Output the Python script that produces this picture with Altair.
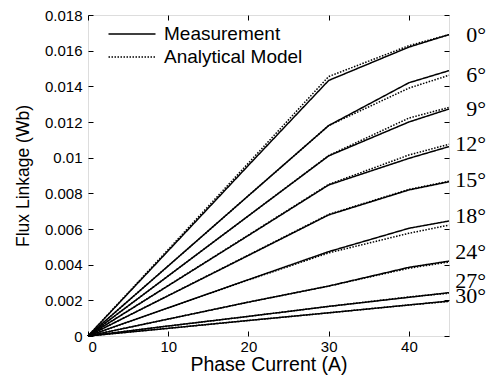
import altair as alt
import pandas as pd

current = [0, 10, 20, 30, 40, 45]
angles = ["0°", "6°", "9°", "12°", "15°", "18°", "24°", "27°", "30°"]

meas_0 = [0, 0.00478, 0.00957, 0.01433, 0.01620, 0.01690]
meas_6 = [0, 0.00393, 0.00787, 0.01180, 0.01420, 0.01488]
meas_9 = [0, 0.00337, 0.00674, 0.01010, 0.01200, 0.01273]
meas_12 = [0, 0.00282, 0.00564, 0.00847, 0.00996, 0.01062]
meas_15 = [0, 0.00226, 0.00452, 0.00679, 0.00819, 0.00865]
meas_18 = [0, 0.00158, 0.00316, 0.00473, 0.00604, 0.00645]
meas_24 = [0, 0.00095, 0.00190, 0.00280, 0.00385, 0.00420]
meas_27 = [0, 0.00056, 0.00110, 0.00166, 0.00217, 0.00243]
meas_30 = [0, 0.00043, 0.00087, 0.00130, 0.00174, 0.00196]

model_0 = [0, 0.00485, 0.00970, 0.01455, 0.01628, 0.01690]
model_6 = [0, 0.00393, 0.00787, 0.01180, 0.01390, 0.01462]
model_9 = [0, 0.00337, 0.00674, 0.01012, 0.01222, 0.01282]
model_12 = [0, 0.00283, 0.00566, 0.00850, 0.01015, 0.01075]
model_15 = [0, 0.00227, 0.00454, 0.00682, 0.00822, 0.00868]
model_18 = [0, 0.00158, 0.00314, 0.00466, 0.00576, 0.00622]
model_24 = [0, 0.00095, 0.00190, 0.00280, 0.00380, 0.00415]
model_27 = [0, 0.00056, 0.00110, 0.00166, 0.00219, 0.00240]
model_30 = [0, 0.00043, 0.00087, 0.00130, 0.00174, 0.00194]

label_y = [0.01693, 0.01469, 0.01281, 0.01085, 0.00880, 0.00680, 0.00477, 0.00316, 0.00230]

x_ticks = [0, 10, 20, 30, 40]
y_ticks = [0, 0.002, 0.004, 0.006, 0.008, 0.010, 0.012, 0.014, 0.016, 0.018]

meas = [meas_0, meas_6, meas_9, meas_12, meas_15, meas_18, meas_24, meas_27, meas_30]
model = [model_0, model_6, model_9, model_12, model_15, model_18, model_24, model_27, model_30]

rows = []
for a, m, p in zip(angles, meas, model):
    for c, v in zip(current, m):
        rows.append({"current": c, "flux": v, "angle": a, "type": "Measurement"})
    for c, v in zip(current, p):
        rows.append({"current": c, "flux": v, "angle": a, "type": "Analytical Model"})
df = pd.DataFrame(rows)

lab_df = pd.DataFrame({"angle": angles, "y": label_y, "x": [45] * len(angles)})

xscale = alt.Scale(domain=[0, 45], nice=False)
yscale = alt.Scale(domain=[0, 0.018], nice=False)

FONT = "Liberation Sans"

x_bottom = alt.X("current:Q", scale=xscale, axis=alt.Axis(
    orient="bottom", values=x_ticks, title="Phase Current (A)",
    offset=-5, tickSize=5, domain=False, grid=False, tickColor="black",
    labelFont=FONT, labelFontSize=15, labelColor="black", labelPadding=3,
    titleFont=FONT, titleFontSize=19.5, titleFontWeight="normal", titleColor="black",
    titlePadding=1))
y_left = alt.Y("flux:Q", scale=yscale, axis=alt.Axis(
    orient="left", values=y_ticks, format=".3~f",
    title="Flux Linkage (Wb)", offset=-5, tickSize=5, domain=False, grid=False,
    tickColor="black", labelFont=FONT, labelFontSize=15, labelColor="black",
    labelPadding=6, labelOverlap=False, titleFont=FONT, titleFontSize=17.5,
    titleFontWeight="normal", titleColor="black", titlePadding=12))

lines = alt.Chart(df).mark_line(color="black", strokeWidth=1.5).encode(
    x=x_bottom,
    y=y_left,
    detail="angle:N",
    strokeDash=alt.StrokeDash("type:N", scale=alt.Scale(
        domain=["Measurement", "Analytical Model"], range=[[1, 0], [1.5, 1.5]]),
        legend=alt.Legend(title=None, orient="none", legendX=33, legendY=8,
                          symbolType="M-2.35,0H2.35", symbolSize=400,
                          symbolStrokeWidth=1.5, symbolStrokeColor="black",
                          symbolFillColor="transparent",
                          labelFont=FONT, labelFontSize=19, labelColor="black",
                          labelOffset=21, rowPadding=2)),
)

frame_ticks = alt.Chart(df).mark_line(opacity=0).encode(
    x=alt.X("current:Q", scale=xscale, axis=alt.Axis(
        orient="top", values=x_ticks, labels=False, title=None,
        offset=-5, tickSize=5, domain=False, grid=False, tickColor="black")),
    y=alt.Y("flux:Q", scale=yscale, axis=alt.Axis(
        orient="right", values=y_ticks, labels=False,
        title=None, offset=-5, tickSize=5, domain=False, grid=False, tickColor="black")),
    detail="angle:N",
)

labels = alt.Chart(lab_df).mark_text(
    align="right", baseline="middle", dx=37, dy=1, font="Liberation Serif",
    fontSize=22, color="black").encode(
    x=alt.X("x:Q", scale=xscale, axis=None),
    y=alt.Y("y:Q", scale=yscale, axis=None),
    text="angle:N",
)

chart = alt.layer(lines, frame_ticks, labels).resolve_axis(
    x="independent", y="independent"
).properties(
    width=361, height=321,
    autosize=alt.AutoSizeParams(type="none"),
    padding={"left": 88, "top": 15, "right": 50, "bottom": 44},
).configure_view(stroke="black", strokeWidth=1).configure(background="white")

chart.save("out.html", embed_options={"renderer": "svg", "actions": False})
